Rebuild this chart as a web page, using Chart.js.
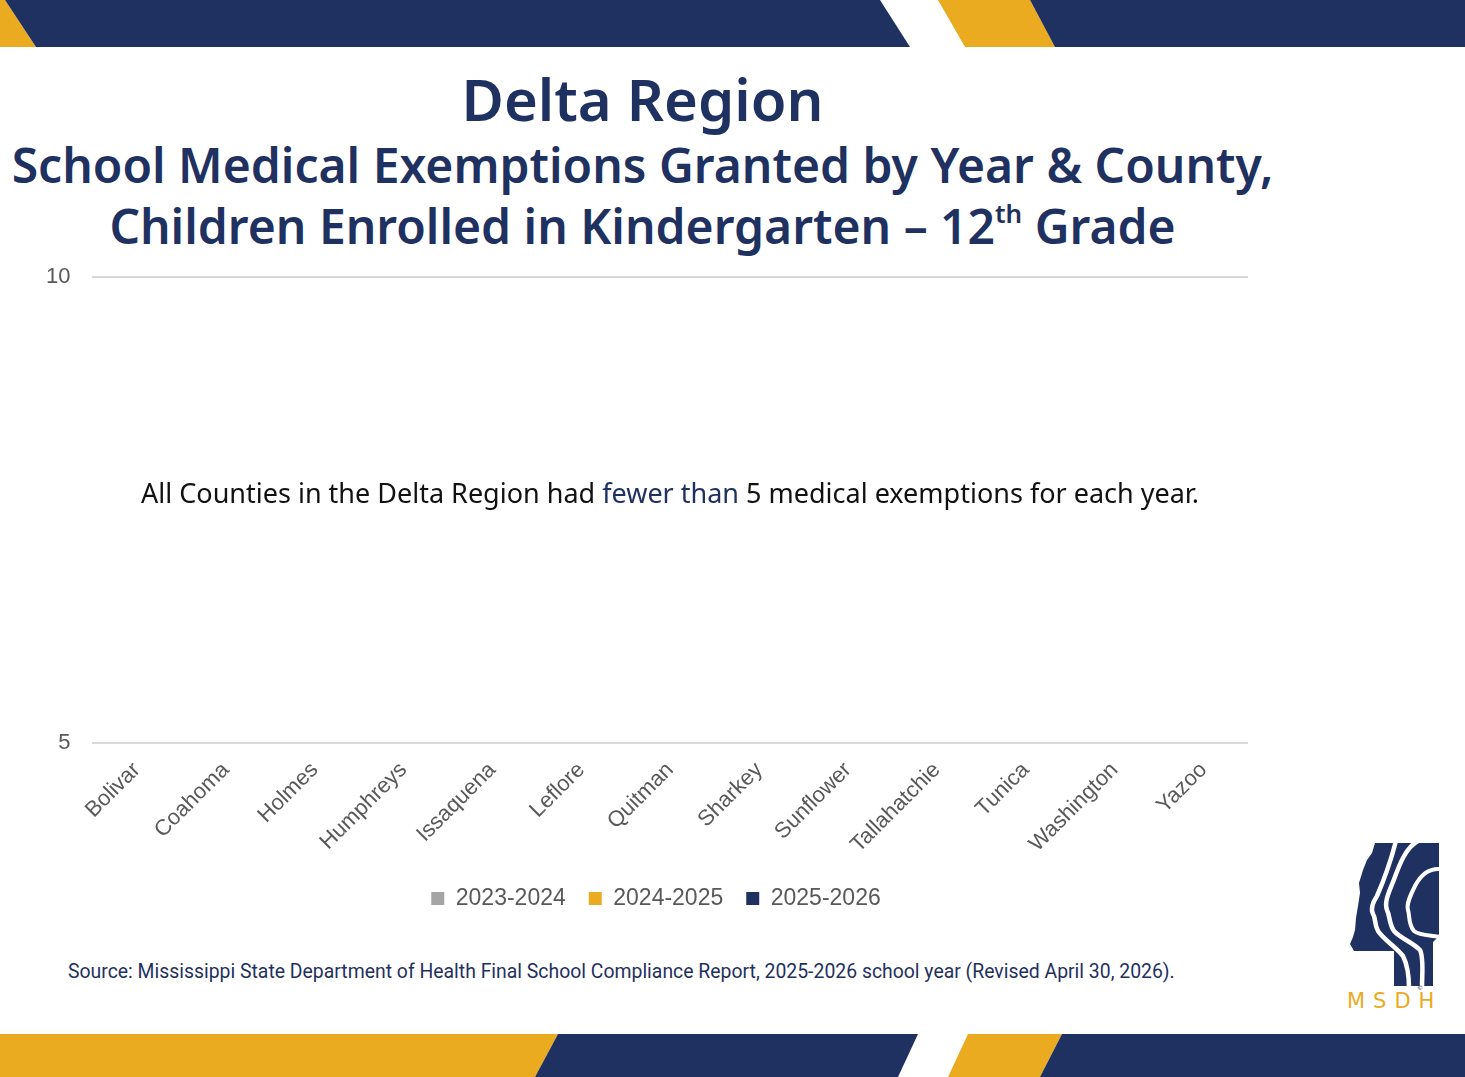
<!DOCTYPE html>
<html lang="en">
<head>
  <meta charset="UTF-8" />
  <title>Delta Region - School Medical Exemptions</title>
  <script src="https://cdn.jsdelivr.net/npm/chart.js"></script>
  <style>
    body {
      margin: 0;
      width: 1465px;
      height: 1077px;
      overflow: hidden;
      background: #fff;
      position: relative;
      font-family: 'Noto Sans', sans-serif;
    }
    .banner { position: absolute; left: 0; }
    h1, h2 {
      position: absolute;
      left: 0;
      width: 1285px;
      margin: 0;
      text-align: center;
      color: #1f3160;
      font-weight: 600;
    }
    h1 { top: 59px; font-size: 58px; }
    h2 { top: 134px; font-size: 48px; line-height: 61px; }
    h2 sup { font-size: 26px; vertical-align: 21px; line-height: 0; }
    .chart-box { position: absolute; left: 9px; top: 242px; }
    .note {
      position: absolute;
      left: 70px;
      width: 1200px;
      top: 474px;
      text-align: center;
      font-size: 27px;
      color: #111;
    }
    .note span { color: #1f3160; }
    .source {
      position: absolute;
      left: 68px;
      top: 960px;
      font-family: Roboto, sans-serif;
      font-size: 19.4px;
      color: #1f3160;
    }
    .logo { position: absolute; left: 1342px; top: 838px; }
  </style>
</head>
<body>
  <svg class="banner" style="top:0" width="1465" height="48">
    <polygon points="0,0 5,0 36,47 0,47" fill="#ebab21" />
    <polygon points="5,0 880,0 910,47 36,47" fill="#1f3160" />
    <polygon points="938,0 1030,0 1055,47 965,47" fill="#ebab21" />
    <polygon points="1030,0 1465,0 1465,47 1055,47" fill="#1f3160" />
  </svg>
  <svg class="banner" style="top:1034px" width="1465" height="43">
    <polygon points="0,0 558,0 535,43 0,43" fill="#ebab21" />
    <polygon points="558,0 918,0 898,43 535,43" fill="#1f3160" />
    <polygon points="968,0 1062,0 1040,43 948,43" fill="#ebab21" />
    <polygon points="1062,0 1465,0 1465,43 1040,43" fill="#1f3160" />
  </svg>

  <h1>Delta Region</h1>
  <h2>School Medical Exemptions Granted by Year &amp; County,<br>Children Enrolled in Kindergarten – 12<sup>th</sup> Grade</h2>

  <div class="chart-box"><canvas id="exemptChart" width="1251" height="682"></canvas></div>

  <div class="note">All Counties in the Delta Region had <span>fewer than</span> 5 medical exemptions for each year.</div>

  <div class="source">Source: Mississippi State Department of Health Final School Compliance Report, 2025-2026 school year (Revised April 30, 2026).</div>

  <svg class="logo" width="104" height="176" viewBox="0 0 104 176">
    <path d="M33,5 L97,5 L97,98 L91,104 L91,148 L52,148 L52,113 L12,113 L8,106 L11,99 L13,92 L14,80 L16,68 L18,55 L17,45 L21,32 L25,22 L30,15 Z" fill="#1f3160" />
    <path d="M54,3 C49,22 42,42 35,58 C31,64 28,70 31,76 C34,80 32,86 36,93 C42,102 53,108 61,118 C66,128 67,138 67,150" stroke="#fff" stroke-width="4.5" fill="none" />
    <path d="M76,3 C63,10 57,28 51,44 C47,54 42,64 45,72 C48,78 47,86 52,93 C58,100 70,104 78,112 C82,120 80,136 80,150" stroke="#fff" stroke-width="4.5" fill="none" />
    <path d="M99,31 C88,30 79,36 73,48 C69,56 64,66 66,72 C68,78 66,86 72,93 C78,98 88,97 99,99" stroke="#fff" stroke-width="4" fill="none" />
    <text x="75" y="152" font-family="DejaVu Sans" font-size="6" fill="#1f3160">©</text>
    <text x="5" y="170" font-family="'DejaVu Sans', sans-serif" font-size="21" letter-spacing="8" fill="#ebab21">MSDH</text>
  </svg>

  <script>
    const counties = ['Bolivar', 'Coahoma', 'Holmes', 'Humphreys', 'Issaquena', 'Leflore', 'Quitman',
      'Sharkey', 'Sunflower', 'Tallahatchie', 'Tunica', 'Washington', 'Yazoo']
    const seasons = ['2023-2024', '2024-2025', '2025-2026']
    // every county had fewer than 5 exemptions each year: counts are suppressed, nothing is drawn
    const exempt2324 = [null, null, null, null, null, null, null, null, null, null, null, null, null]
    const exempt2425 = [null, null, null, null, null, null, null, null, null, null, null, null, null]
    const exempt2526 = [null, null, null, null, null, null, null, null, null, null, null, null, null]
    const yTicks = [5, 10]

    const grey = '#595959'
    const arial = "'Liberation Sans', Arial, sans-serif"

    // the legend sits centred under the whole slide area, a little right of the plot centre
    const legendNudge = {
      id: 'legendNudge',
      afterLayout(chart) {
        chart.legend.left += 20
        chart.legend.right += 20
      }
    }

    new Chart(document.getElementById('exemptChart'), {
      type: 'bar',
      data: {
        labels: counties,
        datasets: [
          { label: seasons[0], data: exempt2324, backgroundColor: '#a5a5a5' },
          { label: seasons[1], data: exempt2425, backgroundColor: '#ebab21' },
          { label: seasons[2], data: exempt2526, backgroundColor: '#1f3160' }
        ]
      },
      options: {
        responsive: false,
        animation: false,
        layout: { padding: { left: 15, right: 12, top: 0, bottom: 4 } },
        plugins: {
          title: { display: false },
          tooltip: { enabled: false },
          legend: {
            position: 'bottom',
            labels: {
              boxWidth: 13,
              boxHeight: 13,
              padding: 23,
              color: grey,
              font: { family: arial, size: 23 }
            }
          }
        },
        scales: {
          y: {
            min: yTicks[0],
            max: yTicks[1],
            afterBuildTicks: (axis) => { axis.ticks = yTicks.map(v => ({ value: v })) },
            border: { display: false },
            grid: { color: '#d9d9d9', lineWidth: 2, drawTicks: false },
            ticks: {
              padding: 22,
              color: grey,
              font: { family: arial, size: 22 }
            }
          },
          x: {
            border: { display: false },
            grid: { display: false },
            ticks: {
              minRotation: 45,
              maxRotation: 45,
              padding: 6,
              color: grey,
              font: { family: arial, size: 22 }
            }
          }
        }
      },
      plugins: [legendNudge]
    })
  </script>
</body>
</html>
